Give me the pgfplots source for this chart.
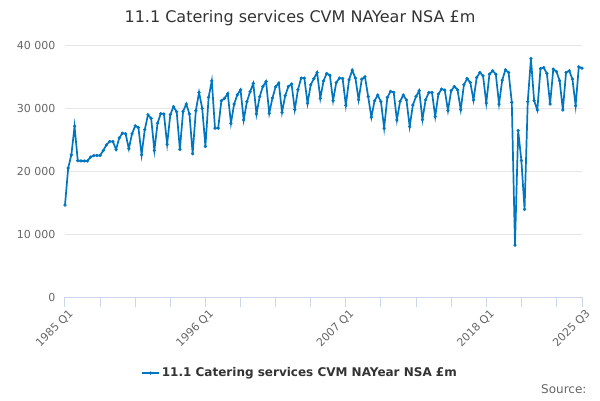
\documentclass[border=0pt]{standalone}
\usepackage{pgfplots}
\pgfplotsset{compat=1.18}
\usepackage{fontspec}
\setmainfont{DejaVu Sans}
\definecolor{serie}{RGB}{0,118,192}
\definecolor{titlec}{HTML}{333333}
\definecolor{tickc}{HTML}{666666}
\definecolor{axisc}{HTML}{CCD6EB}
\definecolor{gridc}{HTML}{E6E6E6}
\pgfplotstableread{
q v
0 14600
1 20470
2 22580
3 27100
4 21630
5 21600
6 21600
7 21600
8 22200
9 22450
10 22470
11 22470
12 23260
13 24160
14 24680
15 24680
16 23420
17 25260
18 26000
19 25900
20 23530
21 25900
22 27160
23 26900
24 22580
25 26580
26 28900
27 28370
28 23260
29 27580
30 29100
31 29050
32 24260
33 28950
34 30200
35 29400
36 23420
37 29470
38 30630
39 29050
40 22740
41 29580
42 32470
43 29950
44 23900
45 31700
46 34300
47 26800
48 26800
49 31160
50 31530
51 32300
52 27580
53 30630
54 32100
55 32900
56 28100
57 31000
58 32580
59 33900
60 29050
61 31800
62 33420
63 34200
64 29160
65 31580
66 33370
67 33950
68 29320
69 31950
70 33420
71 33800
72 29740
73 32900
74 34740
75 34740
76 30740
77 33680
78 34680
79 35630
80 31530
81 34300
82 35470
83 35200
84 31160
85 34050
86 34740
87 34680
88 30420
89 34470
90 36000
91 34740
92 31320
93 34580
94 34950
95 31800
96 28530
97 31160
98 32050
99 31000
100 26800
101 31680
102 32630
103 32470
104 28100
105 31050
106 32050
107 31260
108 27050
109 30470
110 31840
111 32740
112 28160
113 31320
114 32470
115 32470
116 28630
117 32210
118 33000
119 32840
120 29580
121 32740
122 33420
123 32890
124 29740
125 33680
126 34680
127 34050
128 31260
129 34840
130 35630
131 35100
132 30790
133 35370
134 35900
135 35370
136 30630
137 34420
138 36050
139 35630
140 30900
141 8220
142 26420
143 21680
144 13900
145 31000
146 37840
147 31160
148 29680
149 36260
150 36420
151 35470
152 30630
153 36160
154 35790
155 34320
156 29680
157 35630
158 35900
159 34580
160 30370
161 36530
162 36320
}\catering
\begin{document}
\begin{tikzpicture}[x=1pt,y=1pt]
\path[use as bounding box] (0,0) rectangle (600,400);
\node[text=titlec, font=\fontsize{16}{19}\selectfont] at (300,382) {11.1 Catering services CVM NAYear NSA £m};
\begin{axis}[
  at={(65pt,103pt)}, anchor=south west,
  scale only axis, width=517pt, height=252pt,
  xmin=0, xmax=162, ymin=0, ymax=40000,
  axis x line*=bottom, axis y line*=left,
  x axis line style={-, draw=axisc, line width=1pt},
  y axis line style={draw=none},
  xtick={0,44,88,132,162},
  xticklabels={1985 Q1,1996 Q1,2007 Q1,2018 Q1,2025 Q3},
  minor xtick={11,22,33,55,66,77,99,110,121,143,154},
  xtick align=outside,
  major tick length=10pt, minor tick length=10pt,
  xtick style={draw=axisc, line width=1pt},
  xminorgrids=false,
  ytick={0,10000,20000,30000,40000},
  yticklabels={0,10 000,20 000,30 000,40 000},
  scaled y ticks=false,
  ytick style={draw=none},
  ymajorgrids, grid style={draw=gridc, line width=1pt},
  tick label style={text=tickc, font=\fontsize{11}{13}\selectfont},
  xticklabel style={rotate=45, anchor=north east, inner sep=1pt, yshift=-2pt, xshift=2pt},
  yticklabel style={anchor=east, xshift=-6pt},
  legend style={at={(0.4545,-0.3016)}, anchor=center, draw=none, fill=none,
     font=\bfseries\fontsize{12}{14}\selectfont, text=titlec},
  legend cell align=left,
  clip=false,
]
\addplot[serie, line width=1.7pt, mark=*, mark size=1.4pt, mark options={fill=serie, draw=serie, line width=0.5pt}] table[x=q, y=v] {\catering};
\addlegendentry{11.1 Catering services CVM NAYear NSA £m}
\end{axis}
\node[anchor=east, text=tickc, font=\fontsize{12}{14}\selectfont] at (590,11) {Source:};
\end{tikzpicture}
\end{document}
